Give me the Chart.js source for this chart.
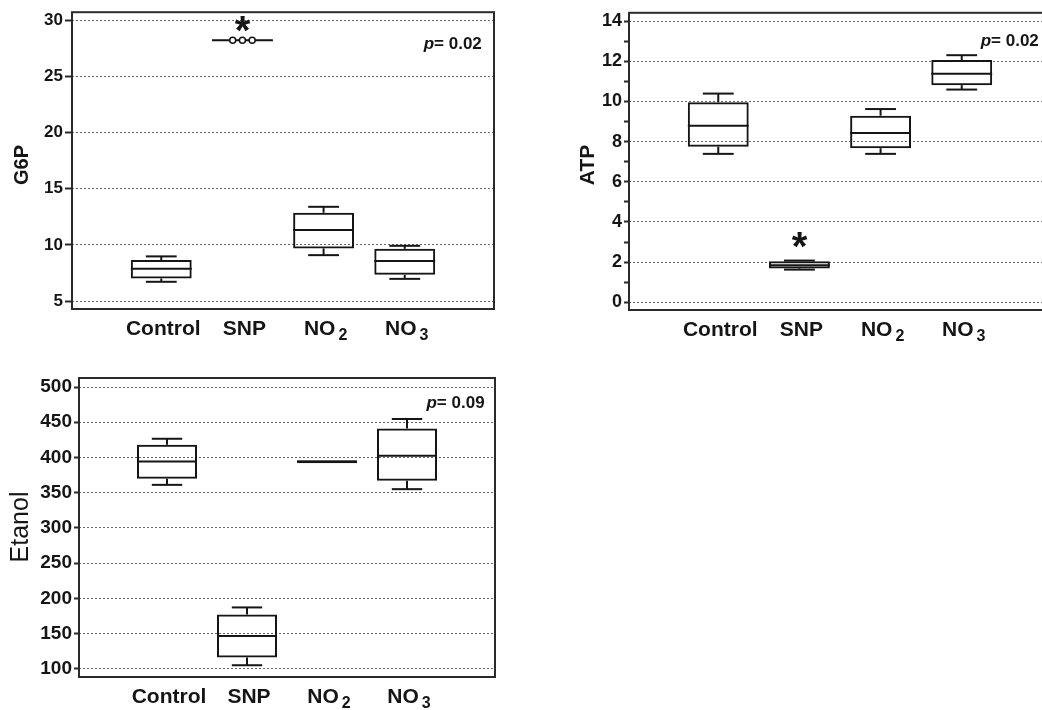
<!DOCTYPE html>
<html>
<head>
<meta charset="utf-8">
<script src="https://cdn.jsdelivr.net/npm/chart.js@4.4.1/dist/chart.umd.min.js"></script>
<style>
  html, body { margin: 0; padding: 0; background: #fff; overflow: hidden; width: 1042px; height: 710px; }
  .panel { position: absolute; overflow: hidden; }
  canvas { display: block; }
</style>
</head>
<body>
<div class="panel" style="left:0;top:0;width:520px;height:345px"><canvas id="g6pChart" width="520" height="345"></canvas></div>
<div class="panel" style="left:520px;top:0;width:522px;height:345px"><canvas id="atpChart" width="545" height="345"></canvas></div>
<div class="panel" style="left:0;top:360px;width:520px;height:350px"><canvas id="etanolChart" width="520" height="350"></canvas></div>
<script>
const FONT = '"Liberation Sans", Arial, Helvetica, sans-serif';
const INK = "#151515";

const labelMain = ["Control", "SNP", "NO", "NO"];
const labelSub = ["", "", "2", "3"];

// G6P
const g6pMin = [6.72, 28.2, 9.09, 6.98];
const g6pQ1 = [7.02, 28.15, 9.69, 7.34];
const g6pMed = [7.87, 28.2, 11.32, 8.56];
const g6pQ3 = [8.65, 28.25, 12.86, 9.65];
const g6pMax = [8.98, 28.2, 13.39, 9.92];
const g6pSnpPoints = [28.2, 28.2, 28.2];

// ATP
const atpMin = [7.39, 1.63, 7.39, 10.59];
const atpQ1 = [7.75, 1.69, 7.67, 10.81];
const atpMed = [8.79, 1.85, 8.43, 11.38];
const atpQ3 = [9.96, 2.05, 9.29, 12.06];
const atpMax = [10.39, 2.08, 9.62, 12.3];

// Etanol
const etanolMin = [361.2, 105.3, 393.5, 355.1];
const etanolQ1 = [369.7, 116.2, 391.8, 366.9];
const etanolMed = [394.3, 146.9, 394, 402.4];
const etanolQ3 = [418, 177.3, 396.2, 441.3];
const etanolMax = [426.6, 187.3, 394.5, 454.6];

const panels = [
  {
    id: "g6pChart", title: "G6P", titleBold: true, titleSize: 20, titleX: 22, titleY: 165,
    min: g6pMin, q1: g6pQ1, med: g6pMed, q3: g6pQ3, max: g6pMax, points: g6pSnpPoints,
    yMin: 4.3, yMax: 30.7, step: 5, minor: false, tickSize: 17, tickLength: 7,
    padding: { top: 12, right: 26, bottom: 36, left: 0 }, axisWidth: 72,
    pText: "0.02", pAt: { x: 3.95, y: 27.4 }, star: { x: 1, y: 29.9 },
  },
  {
    id: "atpChart", title: "ATP", titleBold: true, titleSize: 21, titleX: 68, titleY: 165,
    min: atpMin, q1: atpQ1, med: atpMed, q3: atpQ3, max: atpMax, points: null,
    yMin: -0.38, yMax: 14.41, step: 1, minor: true, tickSize: 18, tickLength: 5,
    padding: { top: 12, right: 14, bottom: 35, left: 0 }, axisWidth: 109,
    pText: "0.02", pAt: { x: 3.95, y: 12.76 }, star: { x: 1, y: 3.25 },
  },
  {
    id: "etanolChart", title: "Etanol", titleBold: false, titleSize: 25, titleX: 21, titleY: 167,
    min: etanolMin, q1: etanolQ1, med: etanolMed, q3: etanolQ3, max: etanolMax, points: null,
    yMin: 88.6, yMax: 512.8, step: 50, minor: false, tickSize: 19, tickLength: 5,
    padding: { top: 18, right: 25, bottom: 33, left: 0 }, axisWidth: 79,
    pText: "0.09", pAt: { x: 3.97, y: 470 }, star: null,
  },
];

function line(ctx, x1, y1, x2, y2) {
  ctx.beginPath();
  ctx.moveTo(x1, y1);
  ctx.lineTo(x2, y2);
  ctx.stroke();
}

function makeExtras(panel) {
  return {
    id: "boxExtras",
    beforeDatasetsDraw(chart) {
      const { ctx } = chart;
      const xs = chart.scales.x;
      const ys = chart.scales.y;
      const bars = chart.getDatasetMeta(0).data;
      const capHalf = (xs.getPixelForValue(1) - xs.getPixelForValue(0)) * 0.19;
      ctx.save();
      ctx.strokeStyle = INK;
      ctx.lineWidth = 2;
      panel.med.forEach((m, i) => {
        const cx = xs.getPixelForValue(i);
        const half = bars[i].width / 2;
        line(ctx, cx - half, ys.getPixelForValue(m), cx + half, ys.getPixelForValue(m));
        if (panel.max[i] > panel.q3[i]) {
          const yt = ys.getPixelForValue(panel.max[i]);
          line(ctx, cx, ys.getPixelForValue(panel.q3[i]), cx, yt);
          line(ctx, cx - capHalf, yt, cx + capHalf, yt);
        }
        if (panel.min[i] < panel.q1[i]) {
          const yb = ys.getPixelForValue(panel.min[i]);
          line(ctx, cx, ys.getPixelForValue(panel.q1[i]), cx, yb);
          line(ctx, cx - capHalf, yb, cx + capHalf, yb);
        }
      });
      ctx.restore();
    },
    afterDraw(chart) {
      const { ctx, chartArea } = chart;
      const xs = chart.scales.x;
      const ys = chart.scales.y;
      ctx.save();

      // frame
      ctx.strokeStyle = "#2a2a2a";
      ctx.lineWidth = 2;
      ctx.strokeRect(chartArea.left, chartArea.top, chartArea.right - chartArea.left, chartArea.bottom - chartArea.top);

      // category labels with subscripts
      ctx.fillStyle = INK;
      ctx.textBaseline = "alphabetic";
      ctx.textAlign = "left";
      const base = chartArea.bottom + 26;
      labelMain.forEach((txt, i) => {
        ctx.font = `bold 21px ${FONT}`;
        const wMain = ctx.measureText(txt).width;
        ctx.font = `bold 16px ${FONT}`;
        const wSub = labelSub[i] ? ctx.measureText(labelSub[i]).width + 3 : 0;
        const x0 = xs.getPixelForValue(i) - (wMain + wSub) / 2 + 2;
        ctx.font = `bold 21px ${FONT}`;
        ctx.fillText(txt, x0, base);
        if (labelSub[i]) {
          ctx.font = `bold 16px ${FONT}`;
          ctx.fillText(labelSub[i], x0 + wMain + 3, base + 5);
        }
      });

      // y title
      ctx.save();
      ctx.translate(panel.titleX, panel.titleY);
      ctx.rotate(-Math.PI / 2);
      ctx.textAlign = "center";
      ctx.textBaseline = "middle";
      ctx.font = `${panel.titleBold ? "bold " : ""}${panel.titleSize}px ${FONT}`;
      ctx.fillText(panel.title, 0, 0);
      ctx.restore();

      // p value
      const px = xs.getPixelForValue(panel.pAt.x);
      const py = ys.getPixelForValue(panel.pAt.y);
      ctx.font = `bold 17px ${FONT}`;
      const rest = "= " + panel.pText;
      const wRest = ctx.measureText(rest).width;
      ctx.textAlign = "left";
      ctx.fillText(rest, px - wRest, py);
      ctx.font = `italic bold 17px ${FONT}`;
      const wP = ctx.measureText("p").width;
      ctx.fillText("p", px - wRest - wP, py);

      // significance star
      if (panel.star) {
        ctx.font = `bold 40px ${FONT}`;
        ctx.textAlign = "center";
        ctx.fillText("*", xs.getPixelForValue(panel.star.x), ys.getPixelForValue(panel.star.y) + 40 * 0.58);
      }
      ctx.restore();
    },
  };
}

panels.forEach((panel) => {
  const datasets = [{
    type: "bar",
    data: panel.q1.map((lo, i) => ({ x: i, y: [lo, panel.q3[i]] })),
    backgroundColor: "transparent",
    borderColor: INK,
    borderWidth: 2,
    borderSkipped: false,
    categoryPercentage: 1,
    barPercentage: 0.75,
    order: 1,
  }];
  if (panel.points) {
    datasets.push({
      type: "scatter",
      data: panel.points.map((v, k) => ({ x: 1 + (k - 1) * 0.12, y: v })),
      pointRadius: 3,
      pointBackgroundColor: "#fff",
      pointBorderColor: INK,
      pointBorderWidth: 1.5,
      showLine: false,
      order: 0,
    });
  }

  new Chart(document.getElementById(panel.id), {
    type: "bar",
    data: { datasets },
    options: {
      responsive: false,
      animation: false,
      events: [],
      layout: { padding: panel.padding },
      plugins: { legend: { display: false }, tooltip: { enabled: false } },
      scales: {
        x: { type: "linear", min: -1.1, max: 4.1, offset: false, display: false },
        y: {
          min: panel.yMin,
          max: panel.yMax,
          afterFit: (scale) => { scale.width = panel.axisWidth; },
          ticks: {
            stepSize: panel.step,
            autoSkip: false,
            includeBounds: false,
            maxTicksLimit: 40,
            padding: 2,
            color: INK,
            font: { family: FONT, weight: "bold", size: panel.tickSize },
            callback: (v) => (panel.minor && v % 2 !== 0 ? "" : v),
          },
          grid: {
            color: (c) => (panel.minor && c.tick && c.tick.value % 2 !== 0 ? "transparent" : "#666"),
            lineWidth: 1,
            tickLength: panel.tickLength,
            tickColor: "#2a2a2a",
            tickWidth: 2,
            tickBorderDash: [],
          },
          border: { display: false, dash: [2, 2] },
        },
      },
    },
    plugins: [makeExtras(panel)],
  });
});
</script>
</body>
</html>
